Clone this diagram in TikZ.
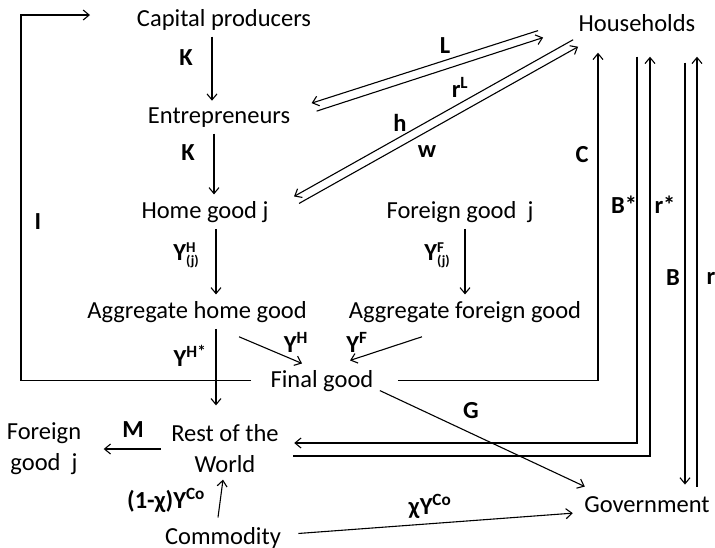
\documentclass[tikz,border=0pt]{standalone}
\usepackage{fontspec}
\setmainfont{Carlito}
\usetikzlibrary{arrows.meta}

\newcommand{\supsub}[3]{#1\rlap{\raisebox{8pt}{\fontsize{15}{15}\selectfont #2}}\raisebox{-5pt}{\fontsize{14}{14}\selectfont #3}}

\begin{document}
\begin{tikzpicture}[x=1pt,y=-1pt,line width=1.1pt,>={Straight Barb[length=6pt,width=10pt]},
    font=\fontsize{24.5}{31}\selectfont,
    agent/.style={inner sep=6pt,anchor=base},
    lbl/.style={font=\fontsize{24.5}{31}\selectfont\bfseries,inner sep=0pt}]
    \useasboundingbox (0,0) rectangle (715,547);
    % sectors
    \node[agent] (cap) at (224,26) {Capital producers};
    \node[agent] (ent) at (219,123) {Entrepreneurs};
    \node[agent] (hgj) at (205,218) {Home good j};
    \node[agent] (fgj) at (460,218) {Foreign good~ j};
    \node[agent] (agh) at (197,318) {Aggregate home good};
    \node[agent] (agf) at (465,318) {Aggregate foreign good};
    \node[agent] (fin) at (322,387) {Final good};
    \node[agent] (hh) at (637,31) {Households};
    \node[agent] (gov) at (647,512) {Government};
    \node[agent] (com) at (223,544) {Commodity};
    \node[agent,anchor=center,align=center] (row) at (225,449) {Rest of the\\World};
    \node[agent,anchor=center,align=center] (fgl) at (44,449) {Foreign\\good~ j};
    \coordinate (lft) at (21,15);
    \coordinate (iend) at (90,15);
    % flows
    \draw[->] ([xshift=-13pt]fin.west) -| (lft) -- (iend);
    \draw[->] ([xshift=-12pt]cap.south) -- ([xshift=-12pt]cap.south |- ent.north);
    \draw[->] ([xshift=-5pt]ent.south) -- ([xshift=-5pt]ent.south |- hgj.north);
    \draw[->] ([xshift=11pt]hgj.south) -- ([xshift=11pt]hgj.south |- agh.north);
    \draw[->] ([xshift=5pt]fgj.south) -- ([xshift=5pt]fgj.south |- agf.north);
    \draw[->] ([xshift=19pt]agh.south) -- ([xshift=-9pt,yshift=13pt]row.north);
    \draw[->] ([xshift=42pt,yshift=-8pt]agh.south) -- ([xshift=-20pt]fin.north);
    \draw[->] ([xshift=-43pt,yshift=-8pt]agf.south) -- ([xshift=28pt,yshift=3pt]fin.north);
    \draw[->] ([yshift=-10pt]fin.east) -- ([xshift=7pt,yshift=3pt]gov.north west);
    \draw[->] ([xshift=11pt,yshift=4pt]com.east) -- ([xshift=-5pt,yshift=-9pt]gov.west);
    \draw[->] ([xshift=-5pt,yshift=3pt]com.north) -- ([xshift=-2pt]row.south);
    \draw[->] ([xshift=-4pt]row.west) -- ([xshift=16pt]fgl.east);
    \draw[->] ([xshift=18pt]fin.east) -| ([xshift=-39pt,yshift=-15pt]hh.south);
    \draw[->] ([yshift=-19pt]hh.south) |- ([xshift=9pt,yshift=6pt]row.east);
    \draw[->] ([xshift=8pt,yshift=-7pt]row.east) -| ([xshift=13pt,yshift=-19pt]hh.south);
    \draw[->] ([xshift=48pt,yshift=-25pt]hh.south) -- ([xshift=38pt,yshift=5pt]gov.north);
    \draw[->] ([xshift=50pt,yshift=3pt]gov.north) -- ([xshift=60pt,yshift=-19pt]hh.south);
    \draw[->] ([xshift=20pt,yshift=6pt]ent.east) -- ([xshift=-29pt,yshift=-15pt]hh.west);
    \draw[->] ([xshift=-34pt,yshift=-8pt]hh.west) -- ([xshift=15pt,yshift=14pt]ent.east);
    \draw[->] ([xshift=1pt,yshift=-2pt]hh.south west) -- ([xshift=19pt,yshift=-2pt]hgj.north east);
    \draw[->] ([xshift=24pt,yshift=-9pt]hgj.north east) -- ([xshift=6pt,yshift=-9pt]hh.south west);
    % flow labels
    \node[lbl] (lI) at (38,222) {I};
    \node[lbl] (lK1) at (186,58) {K};
    \node[lbl] (lK2) at (188,153) {K};
    \node[lbl] (lYHj) at (186,255) {\supsub{Y}{H}{(j)}};
    \node[lbl] (lYFj) at (437,255) {\supsub{Y}{F}{(j)}};
    \node[lbl] (lYHs) at (190,356) {Y\textsuperscript{H*}};
    \node[lbl] (lYH) at (296,342) {Y\textsuperscript{H}};
    \node[lbl] (lYF) at (357,342) {Y\textsuperscript{F}};
    \node[lbl] (lL) at (445,46) {L};
    \node[lbl] (lrL) at (460,87) {r\textsuperscript{L}};
    \node[lbl] (lh) at (400,123) {h};
    \node[lbl] (lw) at (427,152) {w};
    \node[lbl] (lC) at (582,155) {C};
    \node[lbl] (lBs) at (624,205) {B*};
    \node[lbl] (lrs) at (665,205) {r*};
    \node[lbl] (lB) at (673,278) {B};
    \node[lbl] (lr) at (711,278) {r};
    \node[lbl] (lG) at (471,411) {G};
    \node[lbl] (lM) at (133,430) {M};
    \node[lbl] (lCo) at (166,500) {(1-χ)Y\textsuperscript{Co}};
    \node[lbl] (lxCo) at (430,506) {χY\textsuperscript{Co}};
\end{tikzpicture}
\end{document}
